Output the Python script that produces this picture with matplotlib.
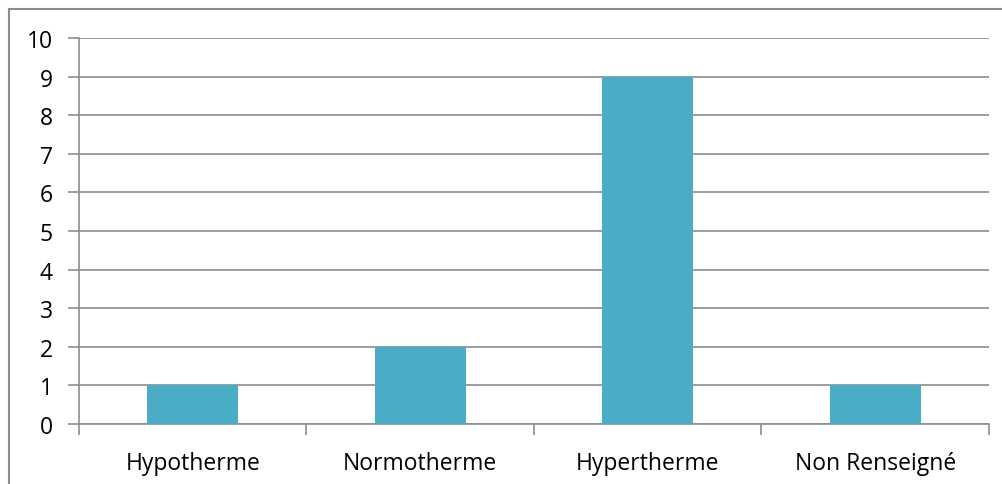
import matplotlib.pyplot as plt
from matplotlib.patches import Rectangle

categories = ["Hypotherme", "Normotherme", "Hypertherme", "Non Renseigné"]
counts = [1, 2, 9, 1]
yticks = list(range(0, 11))

plt.rcParams['font.family'] = ['Open Sans', 'DejaVu Sans']
grey = "#8c8c8c"

fig = plt.figure(figsize=(10.03, 4.85), dpi=100)
ax = fig.add_axes([79/1003, 60/485, 910/1003, 386/485])

x = range(len(categories))
ax.bar(x, counts, width=0.4, color="#4bacc6", zorder=3)

ax.set_xlim(-0.5, len(categories) - 0.5)
ax.set_ylim(0, 10)
ax.set_yticks(yticks)
ax.yaxis.grid(True, color=grey, linewidth=1.2, zorder=0)

# category labels centred, tick marks on the boundaries between them
ax.set_xticks([i - 0.5 for i in range(len(categories) + 1)])
ax.set_xticklabels([])
ax.set_xticks(list(x), minor=True)
ax.set_xticklabels(categories, minor=True, fontsize=16.5)
ax.tick_params(axis='x', which='minor', length=0, pad=19.5)
ax.tick_params(axis='x', which='major', length=8, width=1.2, color=grey, direction='out')
ax.tick_params(axis='y', length=8, width=1.2, color=grey, labelsize=16.5, pad=11)

for side in ("top", "right"):
    ax.spines[side].set_visible(False)
for side in ("left", "bottom"):
    ax.spines[side].set_color(grey)
    ax.spines[side].set_linewidth(1.2)

# outer chart frame
fig.patches.append(Rectangle((9/1003, -0.1), 1.2, 1 - 10/485 + 0.1,
                             transform=fig.transFigure, fill=False,
                             edgecolor=grey, linewidth=1.5))

fig.savefig("out.png", dpi=100)
